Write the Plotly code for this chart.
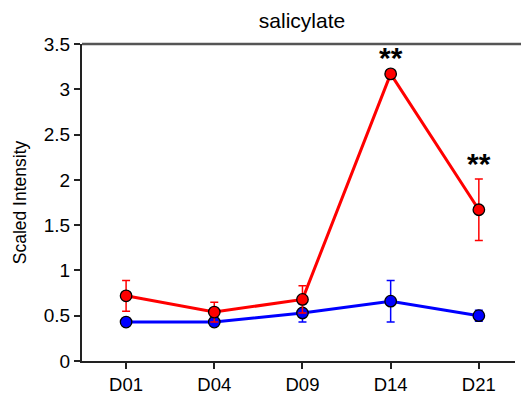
import plotly.graph_objects as go

days = ["D01", "D04", "D09", "D14", "D21"]
red_mean = [0.72, 0.54, 0.68, 3.17, 1.67]
red_err = [0.17, 0.11, 0.15, 0.02, 0.34]
blue_mean = [0.43, 0.43, 0.53, 0.66, 0.50]
blue_err = [0.03, 0.03, 0.10, 0.23, 0.06]
y_ticks = [0, 0.5, 1, 1.5, 2, 2.5, 3, 3.5]
y_tick_text = ["0", "0.5", "1", "1.5", "2", "2.5", "3", "3.5"]
signif = {"D14": "**", "D21": "**"}

fig = go.Figure()

for mean, err, color in [(blue_mean, blue_err, "#0000ff"), (red_mean, red_err, "#ff0000")]:
    fig.add_trace(go.Scatter(
        x=days, y=mean,
        mode="lines+markers",
        line=dict(color=color, width=3),
        marker=dict(size=11.5, color=color, line=dict(color="black", width=1.3)),
        error_y=dict(type="data", array=err, visible=True, color=color,
                     thickness=1.5, width=4),
        showlegend=False,
    ))

for day, txt in signif.items():
    i = days.index(day)
    top = red_mean[i] + red_err[i]
    fig.add_annotation(x=day, y=top, text="<b>" + txt + "</b>", showarrow=False,
                       yanchor="middle", yshift=15,
                       font=dict(family="Arial", size=30, color="black"))

# top frame line
fig.add_shape(type="line", xref="paper", yref="paper", x0=0, x1=1.02, y0=1, y1=1,
              line=dict(color="#555555", width=2.5))

fig.update_layout(
    width=521, height=401,
    margin=dict(l=82, r=6, t=44, b=40),
    paper_bgcolor="white", plot_bgcolor="white",
    title=dict(text="salicylate", x=302 / 521, xanchor="center",
               yref="container", y=1 - 21 / 401, yanchor="middle",
               font=dict(family="Arial", size=21, color="black")),
    font=dict(family="Arial", color="black"),
)
fig.update_xaxes(
    range=[-0.5, 4.41], showgrid=False, zeroline=False,
    showline=True, linecolor="#222222", linewidth=2,
    ticks="outside", ticklen=6, tickwidth=1.5, tickcolor="#222222",
    tickfont=dict(size=18.5, family="Arial", color="black"),
)
fig.update_yaxes(
    range=[0, 3.5], showgrid=False, zeroline=False,
    tickvals=y_ticks, ticktext=y_tick_text,
    showline=True, linecolor="#222222", linewidth=2,
    ticks="outside", ticklen=6, tickwidth=1.5, tickcolor="#222222",
    tickfont=dict(size=19, family="Arial", color="black"),
    title=dict(text="Scaled Intensity", standoff=13,
               font=dict(size=17.5, family="Arial", color="black")),
)

fig.write_html("out.html")
